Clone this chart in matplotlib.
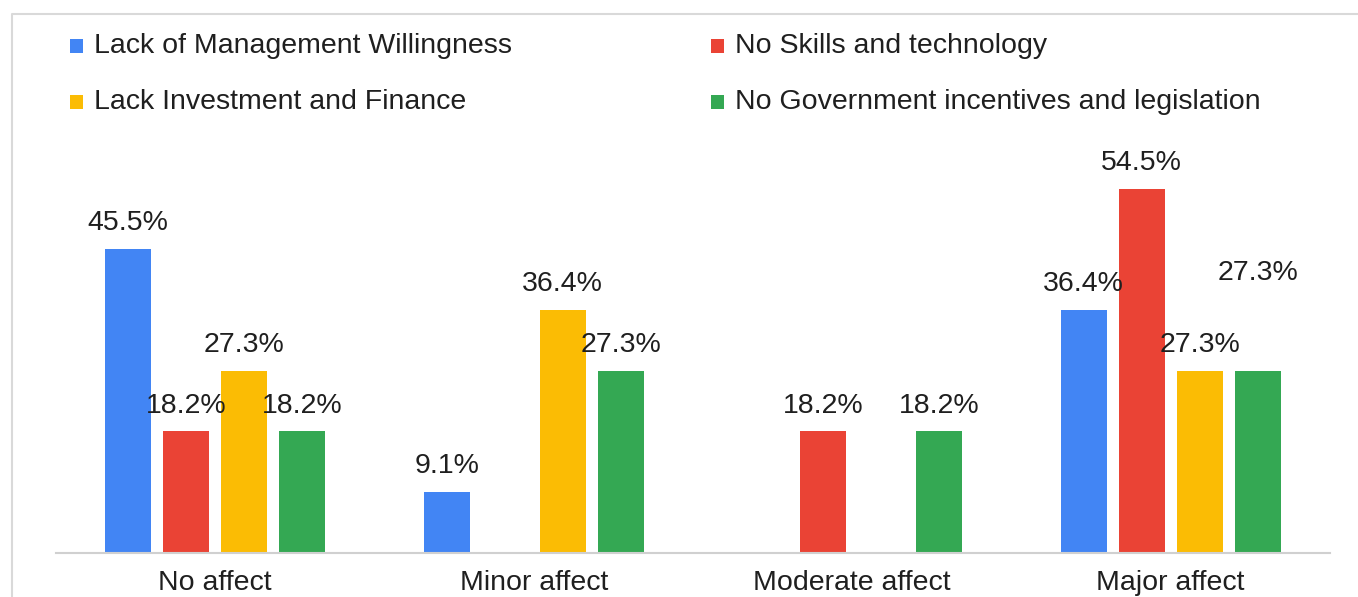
import matplotlib
matplotlib.use("Agg")
import matplotlib.pyplot as plt
from matplotlib.patches import Rectangle
from matplotlib.lines import Line2D
import numpy as np

categories = ["No affect", "Minor affect", "Moderate affect", "Major affect"]
series_names = [
    "Lack of Management Willingness",
    "No Skills and technology",
    "Lack Investment and Finance",
    "No Government incentives and legislation",
]
mgmt_willingness = [45.5, 9.1, 0.0, 36.4]
skills_technology = [18.2, 0.0, 18.2, 54.5]
investment_finance = [27.3, 36.4, 0.0, 27.3]
govt_incentives = [18.2, 27.3, 18.2, 27.3]

series_values = [mgmt_willingness, skills_technology, investment_finance, govt_incentives]
colors = ["#4285F4", "#EA4335", "#FBBC04", "#34A853"]

W, H = 1358, 597
plt.rcParams["font.family"] = ["Liberation Sans", "DejaVu Sans"]
text_color = "#1f1f1f"
fs = 20.5

fig = plt.figure(figsize=(W / 100, H / 100), dpi=100)
fig.patch.set_facecolor("white")

# plot area in pixel terms
left, right, base, top = 56, 1330, 553, 152
ax = fig.add_axes([left / W, (H - base) / H, (right - left) / W, (base - top) / H])
ax.set_xlim(-0.5, len(categories) - 0.5)
ax.set_ylim(0, 60)

x = np.arange(len(categories))
step = 0.182
width = 0.144

# extra vertical nudge (points) for labels that would collide
label_nudge = {(3, 3): 52}

for j, (vals, col) in enumerate(zip(series_values, colors)):
    xs = x + (j - 1.5) * step
    ax.bar(xs, vals, width=width, color=col, edgecolor="none", zorder=2)
    for i, (bx, v) in enumerate(zip(xs, vals)):
        if v <= 0:
            continue
        ax.annotate(f"{v:.1f}%", xy=(bx, v), xytext=(0, 13.5 + label_nudge.get((i, j), 0)),
                    textcoords="offset points", ha="center", va="baseline",
                    fontsize=fs, color=text_color, zorder=3)

for s in ["top", "right", "left"]:
    ax.spines[s].set_visible(False)
ax.spines["bottom"].set_color("#d0d0d0")
ax.spines["bottom"].set_linewidth(1.5)
ax.set_yticks([])
ax.set_xticks(x)
ax.set_xticklabels(categories, fontsize=fs, color=text_color)
ax.tick_params(axis="x", length=0, pad=12.5)
ax.set_facecolor("none")

# legend laid out in two rows and two columns
legend_slots = [(70, 46), (711, 46), (70, 102), (711, 102)]
for (lx, ly), name, col in zip(legend_slots, series_names, colors):
    sq = 13
    fig.add_artist(Rectangle((lx / W, 1 - (ly + sq / 2) / H), sq / W, sq / H,
                             transform=fig.transFigure, facecolor=col, edgecolor="none"))
    fig.text((lx + 24) / W, 1 - ly / H, name, fontsize=fs, color=text_color,
             ha="left", va="center")

# outer frame
fig.add_artist(Line2D([12 / W, 12 / W, 1.0], [0.0, 1 - 14 / H, 1 - 14 / H],
                      transform=fig.transFigure, color="#d9d9d9", lw=1.5))

fig.savefig("out.png", dpi=100, facecolor="white")
